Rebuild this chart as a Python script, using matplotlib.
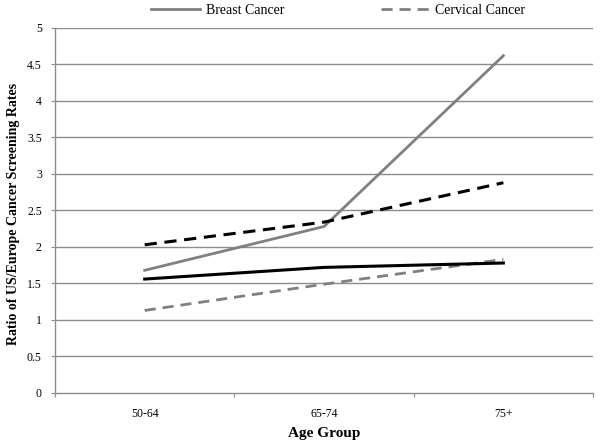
import matplotlib
matplotlib.use('Agg')
import matplotlib.pyplot as plt
import numpy as np

plt.rcParams['font.family'] = ['Liberation Serif', 'DejaVu Serif']

age_groups = ['50-64', '65-74', '75+']
breast_gray = [1.68, 2.28, 4.62]
cervical_gray = [1.13, 1.49, 1.83]
breast_black = [1.56, 1.72, 1.78]
cervical_black = [2.03, 2.34, 2.88]

fig = plt.figure(figsize=(6, 4.44), dpi=100)
ax = fig.add_axes([0.0917, 0.115, 0.8967, 0.822])

x = np.arange(len(age_groups)) + 0.5
grid_c = '#8c8c8c'

for yv in np.arange(0.5, 5.01, 0.5):
    ax.axhline(yv, color=grid_c, lw=1.0, zorder=1)

l1, = ax.plot(x, breast_gray, color='#808080', lw=2, label='Breast Cancer', zorder=3)
l2, = ax.plot(x, cervical_gray, color='#808080', lw=2, ls=(0, (4, 2.5)), label='Cervical Cancer', zorder=3)
ax.plot(x, breast_black, color='black', lw=2.2, zorder=3)
ax.plot(x, cervical_black, color='black', lw=2.2, ls=(0, (4, 2.5)), zorder=3)

ax.set_xlim(0, 3)
ax.set_ylim(0, 5)
ax.set_yticks(np.arange(0, 5.01, 0.5))
ax.set_yticklabels(['0', '0.5', '1', '1.5', '2', '2.5', '3', '3.5', '4', '4.5', '5'])
ax.set_xticks([0, 1, 2, 3])
ax.set_xticklabels([])
ax.set_xticks(x, minor=True)
ax.set_xticklabels(age_groups, minor=True)
ax.tick_params(axis='x', which='minor', length=0, pad=11, labelsize=8.5)
ax.tick_params(axis='x', which='major', length=3, color=grid_c, direction='out')
ax.tick_params(axis='y', length=3, color=grid_c, direction='out', labelsize=8.5, pad=6.5)

for s in ['top', 'right']:
    ax.spines[s].set_visible(False)
for s in ['left', 'bottom']:
    ax.spines[s].set_color(grid_c)
    ax.spines[s].set_linewidth(1.0)

ax.set_xlabel('Age Group', fontsize=11, fontweight='bold', labelpad=5)
ax.set_ylabel('Ratio of US/Europe Cancer Screening Rates', fontsize=10, fontweight='bold')
ax.yaxis.set_label_coords(-0.066, 0.49)

fig.legend(handles=[l1, l2], loc='center', bbox_to_anchor=(0.564, 0.976), ncol=2,
           frameon=False, fontsize=10, handlelength=3.5, columnspacing=7, handletextpad=0.4,
           borderpad=0, borderaxespad=0)

fig.savefig('out.png', dpi=100)
